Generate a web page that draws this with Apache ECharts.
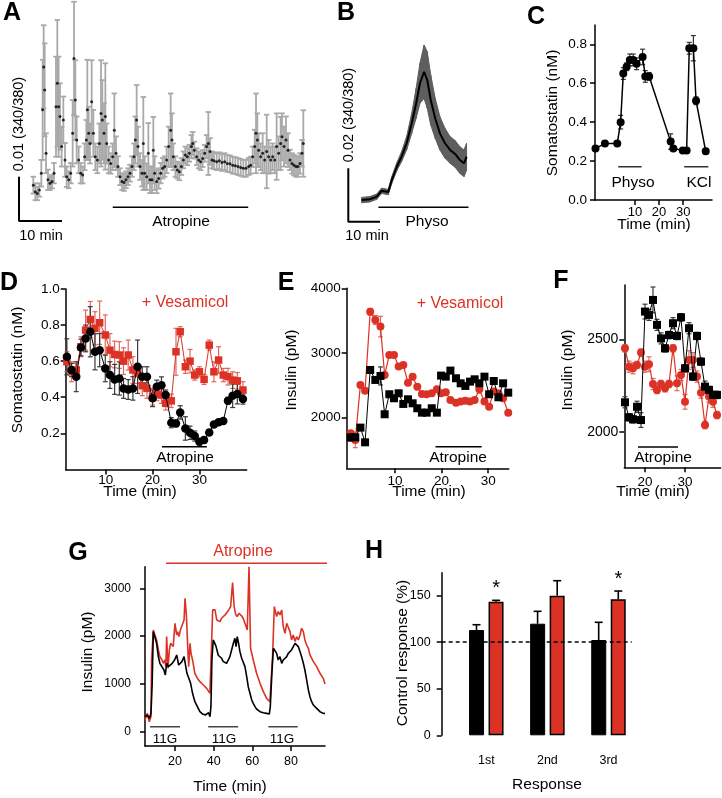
<!DOCTYPE html>
<html>
<head>
<meta charset="utf-8">
<title>Figure</title>
<script src="https://cdn.jsdelivr.net/npm/echarts@6/dist/echarts.min.js"></script>
<style>
html,body{margin:0;padding:0;background:#fff;}
#chart{width:722px;height:798px;}
</style>
</head>
<body>
<div id="chart"></div>
<script>
// ================= DATA =================
// A: fura-2 ratio trace (units of 0.001 ratio), time (min)
const tA = [3.33,3.80,4.26,4.73,5.19,5.50,5.74,5.97,6.28,6.74,
7.21,7.67,8.14,8.60,8.91,9.22,9.53,9.92,10.31,10.70,
11.09,11.55,12.02,12.48,12.79,13.10,13.41,13.88,14.34,14.81,
15.27,15.66,15.89,16.20,16.51,16.90,17.29,17.75,18.22,18.68,
19.07,19.38,19.77,20.08,20.39,20.85,21.32,21.78,22.17,22.56,
23.02,23.49,23.95,24.42,24.88,25.35,25.81,26.28,26.74,27.05,
27.36,27.67,28.14,28.60,28.91,29.22,29.69,30.08,30.47,30.93,
31.24,31.55,32.02,32.48,32.95,33.41,33.88,34.34,34.81,35.27,
35.58,35.89,36.36,36.82,37.29,37.75,38.22,38.68,39.15,39.61,
40.08,40.39,40.78,41.32,41.78,42.25,42.71,43.18,43.64,44.03,
44.42,44.88,45.35,45.97,46.59,47.21,47.83,48.45,49.07,49.69,
50.31,50.93,51.55,52.17,52.79,53.41,53.88,54.34,54.81,55.12,
55.43,55.74,56.20,56.67,57.13,57.60,58.06,58.53,58.99,59.46,
59.92,60.39,60.85,61.16,61.63,62.09,62.56,63.02,63.49,63.95,
64.42,64.88,65.35,65.81,66.12];
const meanA = [8.1,6.6,6.2,7.0,10.8,25.1,34.8,29.6,15.3,9.3,
8.5,8.9,10.8,25.8,31.1,25.8,23.6,16.8,22.8,13.8,
10.0,9.3,10.8,19.8,36.7,27.3,18.3,13.8,10.8,10.4,
14.5,18.3,25.1,19.8,17.5,26.9,19.8,14.5,13.8,17.5,
24.3,22.8,19.8,23.6,17.5,13.8,13.0,14.5,20.5,15.3,
12.3,10.0,8.9,8.7,9.3,10.0,10.8,12.3,14.5,18.3,
22.8,16.8,12.3,10.8,17.5,10.8,10.0,15.3,9.3,9.3,
16.0,10.8,8.9,9.6,10.8,11.9,12.3,13.8,16.8,20.5,
18.3,14.5,12.3,11.5,11.1,12.3,13.8,14.9,14.5,15.3,
16.8,17.5,16.0,14.5,13.8,13.4,14.1,15.3,16.8,17.5,
15.7,13.8,13.6,13.4,13.6,13.2,13.4,13.0,12.9,12.6,
12.5,12.3,12.1,11.9,11.9,12.3,12.6,14.5,16.8,19.8,
18.3,16.0,14.5,15.3,13.8,15.7,14.5,13.8,14.5,13.8,
16.8,15.3,17.5,19.0,16.8,18.3,16.0,13.8,13.0,12.6,
12.3,12.3,13.0,15.3,17.5];
const semA = [1.9,1.9,1.5,1.5,3.0,11.3,9.4,10.5,4.5,2.3,
1.5,1.5,2.3,11.3,14.3,11.3,7.5,4.5,5.3,3.8,
2.3,1.9,2.3,7.5,12.8,9.0,5.3,3.0,2.3,1.9,
3.0,4.5,11.3,6.0,4.5,9.4,5.3,3.0,3.0,4.5,
12.0,9.0,6.8,12.0,4.5,3.0,2.3,3.0,8.3,3.8,
2.3,1.9,1.9,1.9,1.9,1.9,1.9,2.3,3.0,5.3,
7.9,4.5,3.0,3.0,10.5,3.8,3.0,6.8,3.0,3.0,
7.5,3.8,2.6,2.3,2.3,2.3,2.3,3.0,4.5,8.3,
6.0,3.0,2.3,1.9,1.9,1.9,1.9,1.9,1.9,1.9,
2.6,2.6,1.9,1.9,1.9,1.9,1.9,1.9,2.6,7.1,
3.0,1.9,1.9,1.9,1.9,1.9,1.9,1.9,1.9,1.9,
1.9,1.9,1.9,1.9,1.9,1.9,1.9,2.3,3.8,9.0,
6.0,3.8,3.0,4.5,3.0,8.3,3.8,3.0,3.0,3.0,
7.5,3.8,6.0,5.3,4.5,5.3,3.8,2.3,2.3,2.3,
2.3,2.3,2.3,3.0,7.5];
const atropineA = [21.8, 53.3];

// B: fura-2 ratio (units of 0.001), physostigmine
const tB = [4.2,6.8,9.0,10.5,12.6,13.7,15.3,16.8,18.4,20.0,21.4,22.6,23.9,24.9,26.0,27.4,28.9,30.5,32.1,33.7,35.2,36.5,37.3];
const meanB = [8.1,8.4,9.4,11.6,11.1,15.6,20.6,24.4,29.4,36.9,44.4,51.9,56.2,53.1,45.6,38.8,33.1,29.4,26.9,25.4,23.1,21.9,24.4];
const semB = [1.0,1.0,1.0,1.0,1.0,1.25,1.5,1.9,2.5,3.75,5.6,7.5,10.0,10.6,9.4,7.5,6.25,5.6,5.0,5.0,5.0,5.0,5.0];
const physoB = [9.5, 37.9];

// C: somatostatin (nM)
const tC = [-6.3,-2.4,2.7,4.1,5.2,6.6,7.9,9.3,10.7,13.2,14.3,15.9,24.8,25.9,29.8,31.4,32.5,34.2,35.3,39.3];
const somC = [0.265,0.29,0.29,0.40,0.65,0.685,0.72,0.72,0.70,0.735,0.635,0.635,0.30,0.265,0.255,0.255,0.78,0.78,0.51,0.25];
const somCerr = [0.01,0.01,0.01,0.035,0.03,0.02,0.03,0.03,0.03,0.04,0.03,0.02,0.04,0.01,0.01,0.01,0.03,0.065,0.02,0.015];
const physoC = [3.1, 12.8];
const kclC = [30.4, 40.4];
const ticksCx = [10, 20, 30];
const ticksCy = [0, 0.2, 0.4, 0.6, 0.8];

// D: somatostatin (nM), control (black) and + vesamicol (red)
const tD = [1.7,2.7,3.7,4.7,5.7,6.7,7.7,8.7,9.9,10.9,11.9,12.9,13.8,14.8,15.8,16.8,17.8,18.8,20.0,20.9,21.9,22.8,24.0,25.0,25.9,27.0,28.0,29.0,30.0,31.0,32.1,33.1,34.1,35.1,36.1,37.1,38.1,39.3];
const ctrlD = [0.624,0.551,0.514,0.676,0.726,0.763,0.652,0.661,0.560,0.523,0.499,0.504,0.449,0.443,0.449,0.569,0.514,0.514,0.394,0.458,0.467,0.412,0.259,0.255,0.316,0.227,0.203,0.185,0.153,0.163,0.205,0.249,0.262,0.268,0.381,0.408,0.418,0.390];
const ctrlDerr = [0.10,0.037,0.083,0.046,0.074,0.139,0.10,0.092,0.074,0.074,0.083,0.092,0.055,0.055,0.065,0.148,0.055,0.055,0.046,0.037,0.046,0.028,0.028,0.018,0.037,0.065,0.037,0.028,0.018,0.018,0.015,0.015,0.015,0.015,0.018,0.065,0.055,0.028];
const vesD = [0.597,0.541,0.551,0.680,0.772,0.831,0.782,0.813,0.745,0.661,0.637,0.634,0.600,0.634,0.551,0.532,0.464,0.449,0.403,0.418,0.412,0.366,0.380,0.652,0.763,0.569,0.600,0.523,0.541,0.499,0.689,0.541,0.606,0.523,0.514,0.495,0.491,0.440];
const vesDerr = [0.055,0.055,0.037,0.055,0.111,0.10,0.092,0.12,0.111,0.092,0.074,0.074,0.074,0.083,0.074,0.055,0.055,0.055,0.046,0.037,0.046,0.037,0.037,0.13,0.028,0.037,0.065,0.028,0.028,0.028,0.028,0.055,0.074,0.037,0.046,0.046,0.046,0.046];
const atropineD = [22.0, 31.6];
const ticksDx = [10, 20, 30];
const ticksDy = [0.2, 0.4, 0.6, 0.8, 1.0];

// E: insulin (pM)
const tE = [0.5,1.5,2.6,3.6,4.7,5.8,6.9,7.8,8.8,9.8,10.8,11.8,12.8,13.8,14.8,15.8,16.8,17.9,19.0,19.9,20.9,21.9,23.1,24.1,25.1,26.1,27.1,28.1,29.2,30.2,31.2,32.2,33.2,34.3];
const ctrlE = [1690,1690,1840,1612,2734,2579,2641,2047,2357,2295,2372,2207,2279,2217,2140,2072,2072,2140,2072,2646,2630,2724,2605,2527,2486,2553,2589,2527,2630,2357,2563,2310,2527,2382];
const ctrlEerr = [60,40,40,30,30,40,140,30,30,30,30,30,30,30,30,30,30,30,30,40,40,40,30,30,30,30,30,30,30,30,30,30,30,30];
const vesE = [1752,1649,2501,2413,3638,3509,3406,2656,2966,2966,2786,2811,2537,2630,2475,2362,2357,2372,2434,2372,2388,2269,2227,2243,2258,2243,2269,2434,2243,2165,2398,2372,2295,2072];
const vesEerr = [40,120,30,30,50,70,160,30,30,30,30,30,30,30,30,30,30,30,30,30,30,30,30,30,30,30,30,60,30,30,30,30,30,30];
const atropineE = [18.7, 28.6];
const ticksEx = [10, 20, 30];
const ticksEy = [2000, 3000, 4000];

// F: insulin (pM)
const tF = [15,16,17,18,19,20,21,22,23,24,25,26,27,28,29,30,31,32,33,34,35,36,37,38];
const ctrlF = [2159,2078,2067,2135,2063,2650,2632,2713,2578,2505,2451,2523,2587,2518,2619,2343,2560,2298,2518,2379,2244,2226,2199,2199];
const ctrlFerr = [30,20,20,30,40,40,30,70,30,30,20,20,30,20,20,20,30,20,20,20,30,20,20,20];
const vesF = [2451,2352,2343,2361,2428,2352,2365,2258,2226,2258,2235,2258,2451,2262,2307,2162,2388,2388,2298,2211,2036,2190,2162,2090];
const vesFerr = [20,30,30,20,20,30,40,30,20,20,20,20,20,40,30,40,50,40,30,30,20,30,30,20];
const atropineF = [18.25, 28.25];
const ticksFx = [20, 30];
const ticksFy = [2000, 2500];

// G: insulin (pM), control (black) and atropine (red)
const tGctrl = [4.5,5.7,6.7,7.6,8.2,8.8,9.7,10.5,11.4,12.2,13.1,14.3,15.0,15.7,16.6,17.4,18.6,19.8,20.9,21.9,
22.8,23.6,24.7,25.3,26.2,27.1,28.1,29.1,30.3,31.6,32.9,34.3,35.7,36.7,37.4,38.1,38.6,39.1,39.8,40.2,
41.2,42.4,43.3,44.1,45.0,45.9,46.7,47.6,48.4,49.3,50.2,51.0,51.6,52.2,52.9,53.6,54.5,55.3,56.2,57.1,
57.9,58.8,59.7,60.5,61.4,62.2,63.1,64.0,65.7,67.4,68.3,68.8,69.3,70.1,70.9,71.7,72.6,73.4,74.3,75.2,
76.0,76.9,77.8,78.6,79.5,80.3,81.2,82.1,82.9,83.8,84.7,85.5,86.4,87.2,88.1,89.0,89.8,90.7,91.6,93.3,
95.0,96.7,97.6];
const insGctrl = [314,349,279,384,1000,2094,2129,1850,1570,1431,1396,1291,1187,1431,1361,1396,1431,1501,1605,1396,
1361,1466,1570,1605,1222,1187,1012,803,628,524,419,370,349,349,398,314,524,1501,1920,1920,
1790,1600,1560,1536,1466,1501,1431,1501,1570,1710,1850,1954,1780,1989,1850,1675,1536,1501,1361,1152,
942,803,663,593,524,475,440,419,398,384,419,370,524,1200,1745,1710,1640,1501,1570,1431,
1501,1536,1570,1640,1675,1710,1745,1850,1815,1780,1675,1570,1431,1291,1082,873,733,628,558,489,
419,384,380];
const tGatr = [4.5,5.7,6.7,7.6,7.9,8.8,9.7,10.5,11.4,12.2,13.3,14.0,14.8,15.3,15.7,16.4,17.1,17.8,18.4,19.1,
20.0,20.9,21.4,22.1,22.8,23.6,24.7,25.2,25.9,26.6,27.1,27.8,28.3,29.1,30.3,31.6,32.9,34.7,36.4,38.1,
38.6,39.5,40.7,41.6,42.4,43.3,44.1,45.0,45.9,46.7,47.8,48.8,49.8,50.6,51.4,52.2,53.1,53.9,54.8,55.6,
56.5,57.4,57.9,58.3,59.1,60.5,62.2,64.0,65.7,67.4,69.1,69.7,70.5,71.4,72.6,73.4,74.3,75.2,76.0,76.9,
77.8,78.6,79.5,80.3,81.2,82.1,82.9,83.8,84.7,85.5,86.4,87.2,88.1,89.0,89.8,90.7,91.6,93.3,95.0,96.7,
97.6];
const insGatr = [244,384,209,314,1501,2129,2164,1920,1710,1570,1501,1431,1501,1361,1989,1326,1710,1850,1885,1780,
2268,2024,2094,1989,2129,2164,2338,2792,2443,1780,1361,1850,1640,1501,1222,1117,1047,977,907,803,
838,2548,2548,2338,2373,2303,2373,2408,2443,2408,2548,2617,3120,2620,2450,2408,2478,2443,2408,2338,
2234,2129,2094,3450,1745,1501,1222,1012,838,698,628,593,1600,2618,2408,2513,2443,2548,2199,2059,
2268,2234,2094,1920,2024,1885,1989,1920,2024,2164,2094,1920,1815,1745,1605,1570,1466,1361,1222,1117,
1000];
const glucoseG = [[7.1, 22.6], [37.2, 52.7], [68.3, 83.5]];
const atropineG = [15.4, 99.2];
const ticksGx = [20, 40, 60, 80];
const ticksGy = [0, 1000, 2000, 3000];

// H: control response (%)
const hCats = ['1st', '2nd', '3rd'];
const hCtrl = [113.1, 119.9, 102.4];
const hCtrlErr = [5.7, 13.3, 19.0];
const hAtr = [143.6, 150.0, 146.1];
const hAtrErr = [1.4, 16.1, 8.9];
const hSig = [1, 0, 1];
const ticksHy = [0, 50, 100, 150];
const hRef = 100;

// ================= HELPERS =================
const FF = '"Liberation Sans", Arial, Helvetica, sans-serif';
const RED = '#dc3226';
const zip = (...arrs) => arrs[0].map((_, i) => arrs.map(a => a[i]));

function errBars(color, cap, lw, offset, upOnly) {
  return function (params, api) {
    const x = api.value(0), y = api.value(1), e = api.value(2);
    const top = api.coord([x, y + e]);
    const bot = upOnly ? api.coord([x, y]) : api.coord([x, y - e]);
    const cx = top[0] + (offset || 0);
    const h = cap / 2;
    const st = { stroke: color, lineWidth: lw };
    const ch = [
      { type: 'line', shape: { x1: cx, y1: top[1], x2: cx, y2: bot[1] }, style: st },
      { type: 'line', shape: { x1: cx - h, y1: top[1], x2: cx + h, y2: top[1] }, style: st }
    ];
    if (!upOnly) ch.push({ type: 'line', shape: { x1: cx - h, y1: bot[1], x2: cx + h, y2: bot[1] }, style: st });
    return { type: 'group', children: ch };
  };
}
function errSeries(idx, data, color, cap, lw, z) {
  return { type: 'custom', xAxisIndex: idx, yAxisIndex: idx, data: data, renderItem: errBars(color, cap, lw, 0, false),
    encode: { x: 0, y: 1 }, z: z || 2, silent: true };
}
function seg(idx, range, y, color, lw) {
  return { type: 'line', xAxisIndex: idx, yAxisIndex: idx, data: [[range[0], y], [range[1], y]], symbol: 'none',
    lineStyle: { color: color, width: lw }, silent: true, clip: false, z: 3 };
}
function hiddenAxis(gi, min, max) {
  return { type: 'value', gridIndex: gi, min: min, max: max, show: false, splitLine: { show: false } };
}
function visAxis(gi, min, max, ticks, fs, margin, fmt) {
  return {
    type: 'value', gridIndex: gi, min: min, max: max,
    axisLine: { show: true, onZero: false, lineStyle: { color: '#000', width: 1.5 } },
    axisTick: { show: true, inside: false, length: 5, customValues: ticks, lineStyle: { color: '#000', width: 1.5 } },
    axisLabel: { customValues: ticks, color: '#000', fontSize: fs, fontFamily: FF, margin: margin,
      formatter: fmt || (v => String(v)) },
    splitLine: { show: false }
  };
}
function txt(s, x, y, size, opts) {
  opts = opts || {};
  return {
    type: 'text', x: x, y: y, rotation: opts.rot ? Math.PI / 2 : 0, silent: true, z: 100,
    style: { text: s, fill: opts.color || '#000', fontSize: size, fontFamily: FF, fontWeight: opts.bold ? 'bold' : 'normal',
      align: 'center', verticalAlign: 'middle', textAlign: 'center', textVerticalAlign: 'middle' }
  };
}

// ================= OPTION =================
const grids = [
  { left: 19, top: 0, width: 301, height: 221 },        // A
  { left: 348.3, top: 0, width: 130, height: 221.7 },   // B
  { left: 595, top: 25, width: 117, height: 175 },      // C
  { left: 65.7, top: 289, width: 181, height: 180.4 },  // D
  { left: 346.7, top: 288.3, width: 162, height: 180 }, // E
  { left: 624.3, top: 285, width: 96.3, height: 182.3 },// F
  { left: 145, top: 566.7, width: 180, height: 179.3 }, // G
  { left: 441.7, top: 572.7, width: 190, height: 162.6 }// H
].map(g => Object.assign({ containLabel: false, outerBoundsMode: 'none' }, g));

const fmt1 = v => v.toFixed(1);
const xAxes = [
  hiddenAxis(0, 0, 70),
  hiddenAxis(1, 0, 41),
  visAxis(2, -6.5, 41.9, ticksCx, 13, 6),
  visAxis(3, 1.45, 40.1, ticksDx, 13.5, 4),
  visAxis(4, -0.34, 34.4, ticksEx, 13.5, 6),
  visAxis(5, 14.83, 38.9, ticksFx, 13.5, 8),
  visAxis(6, 4.5, 97.6, ticksGx, 12.5, 9),
  (function () {
    const a = visAxis(7, -0.73, 2.38, [0, 1, 2], 12.5, 19, v => hCats[Math.round(v)]);
    a.axisLine.show = false; a.axisTick.show = false; return a;
  })()
];
const yAxes = [
  hiddenAxis(0, 0, 49.9),
  hiddenAxis(1, 0, 83.1),
  visAxis(2, 0, 0.8993, ticksCy, 13.5, 8, fmt1),
  visAxis(3, 0, 1.0, ticksDy, 13.5, 6, fmt1),
  visAxis(4, 1209, 4000, ticksEy, 13.5, 6),
  visAxis(5, 1807.3, 2793.8, ticksFy, 14, 6),
  visAxis(6, -299, 3452, ticksGy, 12, 14),
  visAxis(7, 0, 174.7, ticksHy, 12.5, 11)
];

const series = [];
// ---- A ----
series.push({ type: 'custom', xAxisIndex: 0, yAxisIndex: 0, data: zip(tA, meanA, semA),
  renderItem: errBars('#a9a9a9', 5.5, 1.8, 0, false), encode: { x: 0, y: 1 }, z: 1, silent: true });
series.push({ type: 'scatter', xAxisIndex: 0, yAxisIndex: 0, data: zip(tA, meanA), symbolSize: 3,
  itemStyle: { color: '#000' }, z: 2, silent: true });
series.push({ type: 'line', xAxisIndex: 0, yAxisIndex: 0, data: [[0, 10], [0, 0], [10, 0]], symbol: 'none',
  lineStyle: { color: '#000', width: 2 }, clip: false, silent: true });
series.push(seg(0, atropineA, 3.1, '#000', 1.5));
// ---- B ----
const bandB = tB.slice(0, -1).map((t, i) => [t, meanB[i] - semB[i], meanB[i] + semB[i],
  tB[i + 1], meanB[i + 1] - semB[i + 1], meanB[i + 1] + semB[i + 1]]);
series.push({ type: 'custom', xAxisIndex: 1, yAxisIndex: 1, data: bandB, silent: true, z: 1,
  encode: { x: [0, 3], y: [1, 2, 4, 5] },
  renderItem: function (params, api) {
    const a = api.coord([api.value(0), api.value(1)]);
    const b = api.coord([api.value(0), api.value(2)]);
    const c = api.coord([api.value(3), api.value(5)]);
    const d = api.coord([api.value(3), api.value(4)]);
    return { type: 'polygon', shape: { points: [a, b, c, d] },
      style: { fill: '#5e5e5e', stroke: '#5e5e5e', lineWidth: 1 } };
  } });
series.push({ type: 'line', xAxisIndex: 1, yAxisIndex: 1, symbol: 'none', data: zip(tB, meanB),
  lineStyle: { color: '#000', width: 2 }, z: 3, silent: true });
series.push({ type: 'line', xAxisIndex: 1, yAxisIndex: 1, data: [[0, 20], [0, 0], [10, 0]], symbol: 'none',
  lineStyle: { color: '#000', width: 2 }, clip: false, silent: true });
series.push(seg(1, physoB, 5.4, '#000', 1.5));
// ---- C ----
series.push(errSeries(2, zip(tC, somC, somCerr), '#333', 5, 1.2));
series.push({ type: 'line', xAxisIndex: 2, yAxisIndex: 2, data: zip(tC, somC), symbol: 'circle', symbolSize: 8,
  itemStyle: { color: '#000' }, lineStyle: { color: '#000', width: 1.5 }, z: 4, silent: true });
series.push(seg(2, physoC, 0.171, '#333', 1.5));
series.push(seg(2, kclC, 0.171, '#333', 1.5));
// ---- D ----
series.push(errSeries(3, zip(tD, vesD, vesDerr), '#e0675e', 5, 1.2));
series.push(errSeries(3, zip(tD, ctrlD, ctrlDerr), '#3a3a3a', 5, 1.2));
series.push({ type: 'line', xAxisIndex: 3, yAxisIndex: 3, data: zip(tD, vesD), symbol: 'rect', symbolSize: 7.5,
  itemStyle: { color: RED }, lineStyle: { color: RED, width: 1 }, z: 4, silent: true });
series.push({ type: 'line', xAxisIndex: 3, yAxisIndex: 3, data: zip(tD, ctrlD), symbol: 'circle', symbolSize: 8.5,
  itemStyle: { color: '#000' }, lineStyle: { color: '#000', width: 1 }, z: 5, silent: true });
series.push(seg(3, atropineD, 0.126, '#000', 1.5));
// ---- E ----
series.push(errSeries(4, zip(tE, vesE, vesEerr), '#e0675e', 5, 1.2));
series.push(errSeries(4, zip(tE, ctrlE, ctrlEerr), '#3a3a3a', 5, 1.2));
series.push({ type: 'line', xAxisIndex: 4, yAxisIndex: 4, data: zip(tE, vesE), symbol: 'circle', symbolSize: 8,
  itemStyle: { color: RED }, lineStyle: { color: RED, width: 1.2 }, z: 4, silent: true });
series.push({ type: 'line', xAxisIndex: 4, yAxisIndex: 4, data: zip(tE, ctrlE), symbol: 'rect', symbolSize: 8,
  itemStyle: { color: '#000' }, lineStyle: { color: '#000', width: 1 }, z: 5, silent: true });
series.push(seg(4, atropineE, 1544, '#000', 1.5));
// ---- F ----
series.push(errSeries(5, zip(tF, vesF, vesFerr), '#e0675e', 5, 1.2));
series.push(errSeries(5, zip(tF, ctrlF, ctrlFerr), '#3a3a3a', 5, 1.2));
series.push({ type: 'line', xAxisIndex: 5, yAxisIndex: 5, data: zip(tF, vesF), symbol: 'circle', symbolSize: 8,
  itemStyle: { color: RED }, lineStyle: { color: RED, width: 1.2 }, z: 4, silent: true });
series.push({ type: 'line', xAxisIndex: 5, yAxisIndex: 5, data: zip(tF, ctrlF), symbol: 'rect', symbolSize: 8,
  itemStyle: { color: '#000' }, lineStyle: { color: '#000', width: 1 }, z: 5, silent: true });
series.push(seg(5, atropineF, 1917, '#000', 1.5));
// ---- G ----
series.push({ type: 'line', xAxisIndex: 6, yAxisIndex: 6, data: zip(tGatr, insGatr), symbol: 'none',
  lineStyle: { color: RED, width: 1.6 }, z: 3, silent: true });
series.push({ type: 'line', xAxisIndex: 6, yAxisIndex: 6, data: zip(tGctrl, insGctrl), symbol: 'none',
  lineStyle: { color: '#000', width: 1.6 }, z: 4, silent: true });
glucoseG.forEach(r => series.push(seg(6, r, 105, '#444', 1.5)));
series.push(seg(6, atropineG, 3523, RED, 1.5));
// ---- H ----
series.push({ type: 'line', xAxisIndex: 7, yAxisIndex: 7, data: [], symbol: 'none', z: 1, silent: true,
  markLine: { silent: true, symbol: 'none', label: { show: false },
    lineStyle: { color: '#000', width: 1.5, type: [4, 3] }, data: [{ yAxis: hRef }] } });
series.push({ type: 'bar', xAxisIndex: 7, yAxisIndex: 7, data: hCtrl.map((v, i) => [i, v]), barWidth: 15, barGap: '30%',
  itemStyle: { color: '#000', borderColor: '#000', borderWidth: 1 }, z: 3, silent: true });
series.push({ type: 'bar', xAxisIndex: 7, yAxisIndex: 7, data: hAtr.map((v, i) => [i, v]), barWidth: 15, barGap: '30%',
  itemStyle: { color: RED, borderColor: '#000', borderWidth: 1.5 }, z: 3, silent: true });
series.push({ type: 'custom', xAxisIndex: 7, yAxisIndex: 7, data: zip([0, 1, 2], hCtrl, hCtrlErr),
  renderItem: errBars('#000', 8, 1.6, -9.8, true), encode: { x: 0, y: 1 }, z: 2, silent: true });
series.push({ type: 'custom', xAxisIndex: 7, yAxisIndex: 7, data: zip([0, 1, 2], hAtr, hAtrErr, hSig),
  renderItem: function (params, api) {
    const g = errBars('#000', 8, 1.6, 9.8, true)(params, api);
    if (api.value(3)) {
      const top = api.coord([api.value(0), api.value(1) + api.value(2)]);
      g.children.push({ type: 'text', x: top[0] + 9.8, y: top[1] - 12,
        style: { text: '*', fontSize: 20, fontFamily: FF, fill: '#000', align: 'center', verticalAlign: 'middle',
          textAlign: 'center', textVerticalAlign: 'middle' } });
    }
    return g;
  }, encode: { x: 0, y: 1 }, z: 2, silent: true });

const graphics = [
  txt('A', 12, 13, 25, { bold: true }), txt('B', 346, 13, 25, { bold: true }), txt('C', 536, 17, 25, { bold: true }),
  txt('D', 9, 283, 25, { bold: true }), txt('E', 286, 283, 25, { bold: true }), txt('F', 561, 281, 25, { bold: true }),
  txt('G', 78, 553, 25, { bold: true }), txt('H', 374, 551, 25, { bold: true }),
  // A
  txt('10 min', 41, 236, 14.5), txt('0.01 (340/380)', 19, 124, 14.5, { rot: true }), txt('Atropine', 181, 222, 15.5),
  // B
  txt('10 min', 367, 236, 14.5), txt('0.02 (340/380)', 349, 115, 14.5, { rot: true }), txt('Physo', 427, 222, 15.5),
  // C
  txt('Physo', 633, 183, 15.5), txt('KCl', 699, 183, 15.5), txt('Somatostatin (nM)', 553, 113, 15.5, { rot: true }),
  txt('Time (min)', 654, 225, 15.5),
  // D
  txt('+ Vesamicol', 185, 303, 16, { color: RED }), txt('Atropine', 185, 458, 15.5),
  txt('Somatostatin (nM)', 18, 370, 15.5, { rot: true }), txt('Time (min)', 140, 492, 15.5),
  // E
  txt('+ Vesamicol', 460, 304, 16, { color: RED }), txt('Atropine', 458, 458, 15.5),
  txt('Insulin (pM)', 292, 370, 15.5, { rot: true }), txt('Time (min)', 429, 492, 15.5),
  // F
  txt('Atropine', 663, 458, 15.5), txt('Insulin (pM)', 568, 370, 15.5, { rot: true }), txt('Time (min)', 653, 492, 15.5),
  // G
  txt('Atropine', 243, 552, 16, { color: RED }), txt('Insulin (pM)', 88, 652, 15.5, { rot: true }),
  txt('Time (min)', 230, 787, 15.5),
  txt('11G', 165, 739, 13.5), txt('11G', 224, 739, 13.5), txt('11G', 282, 739, 13.5),
  // H
  txt('Control response (%)', 403, 653, 15.5, { rot: true }), txt('Response', 547, 785, 15.5)
];

const chart = echarts.init(document.getElementById('chart'), null, { renderer: 'canvas' });
chart.setOption({
  animation: false,
  backgroundColor: '#fff',
  textStyle: { fontFamily: FF },
  grid: grids,
  xAxis: xAxes,
  yAxis: yAxes,
  series: series,
  graphic: graphics
});
</script>
</body>
</html>
